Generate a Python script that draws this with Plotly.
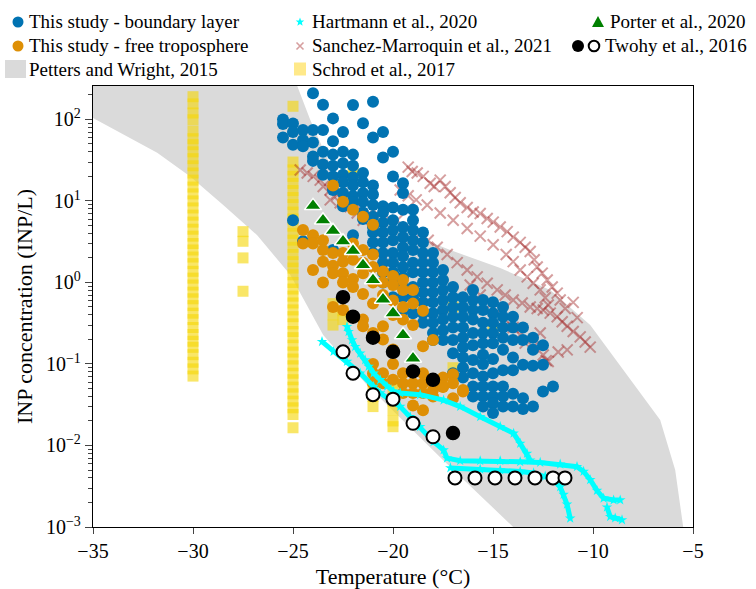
import math
import plotly.graph_objects as go

# ---------------- data ----------------
# This study - boundary layer
bl_temp = ([-25.5]*3 + [-25]*4 + [-24.5]*4 + [-24]*5 + [-23.5]*5 + [-23]*7 + [-22.5]*7 +
           [-22]*8 + [-21.5]*7 + [-21]*10 + [-20.5]*11 + [-20]*11 + [-19.5]*12 + [-19]*10 +
           [-18.5]*10 + [-18]*10 + [-17.5]*8 + [-17]*8 + [-16.5]*9 + [-16]*10 + [-15.5]*11 +
           [-15]*11 + [-14.5]*9 + [-14]*7 + [-13.5]*5 + [-13]*4 + [-12.5]*3 + [-12]*1)
bl_inp = [100, 88, 60,
          89, 70, 49, 5.8,
          74, 56, 47, 3.2,
          210, 74, 52, 35, 31,
          151, 74, 40, 28, 21,
          103, 54, 37, 27, 20, 13.6, 2.5,
          70, 40, 29, 21, 17, 12.5, 8.6,
          150, 37, 27, 19.5, 15.5, 11.5, 9.7, 3.8,
          90, 22, 17, 12.5, 9.8, 7.2, 6.0,
          165, 60, 15.5, 12, 8.9, 6.4, 4.8, 4.1, 3.1, 2.3,
          70, 34, 8.6, 7.2, 5.4, 4.1, 3.1, 2.3, 1.75, 1.33, 1.0,
          40, 20, 8.3, 5.8, 4.4, 3.3, 2.3, 1.75, 1.33, 1.0, 0.66,
          16.5, 12.5, 7.8, 4.8, 3.6, 2.7, 2.1, 1.55, 1.17, 0.88, 0.66, 0.46,
          7.8, 5.8, 4.4, 3.3, 2.5, 1.75, 1.33, 0.88, 0.66, 0.42,
          4.1, 3.1, 2.3, 1.75, 1.33, 1.0, 0.76, 0.57, 0.42, 0.32,
          2.3, 1.75, 1.33, 1.0, 0.76, 0.57, 0.42, 0.32, 0.24, 0.197,
          1.42, 1.07, 0.81, 0.61, 0.46, 0.35, 0.26, 0.197,
          0.88, 0.66, 0.50, 0.38, 0.28, 0.197, 0.135, 0.077,
          0.66, 0.50, 0.38, 0.28, 0.21, 0.16, 0.12, 0.09, 0.068,
          0.81, 0.61, 0.46, 0.35, 0.24, 0.17, 0.112, 0.077, 0.053, 0.040,
          0.61, 0.46, 0.32, 0.24, 0.18, 0.13, 0.10, 0.07, 0.053, 0.040, 0.030,
          0.57, 0.42, 0.32, 0.24, 0.18, 0.115, 0.077, 0.053, 0.040, 0.033, 0.025,
          0.50, 0.38, 0.28, 0.21, 0.149, 0.084, 0.053, 0.040, 0.030,
          0.38, 0.28, 0.197, 0.12, 0.084, 0.043, 0.030,
          0.28, 0.197, 0.098, 0.038, 0.028,
          0.21, 0.149, 0.095, 0.030,
          0.17, 0.098, 0.046,
          0.053]

# This study - free troposphere
ft_temp = ([-24.5]*2 + [-24]*3 + [-23.5]*4 + [-23]*5 + [-22.5]*6 + [-22]*6 + [-21.5]*7 +
           [-21]*9 + [-20.5]*7 + [-20]*7 + [-19.5]*7 + [-19]*6 + [-18.5]*6 + [-18]*4 +
           [-17.5]*3 + [-17]*3 + [-16.5]*2)
ft_inp = [4.4, 3.0,
          3.8, 3.0, 1.42,
          3.3, 2.5, 1.8, 1.0,
          15.5, 2.3, 1.6, 1.3, 0.50,
          9.8, 2.3, 1.8, 1.3, 1.0, 0.46,
          7.8, 3.0, 1.9, 1.1, 0.88, 0.38,
          6.4, 2.5, 1.75, 1.3, 0.72, 0.35, 0.29,
          5.1, 2.2, 1.55, 1.0, 0.55, 0.24, 0.10, 0.077, 0.058,
          1.36, 1.0, 0.7, 0.29, 0.2, 0.077, 0.058,
          1.2, 0.93, 0.6, 0.4, 0.15, 0.1, 0.064,
          1.07, 0.81, 0.5, 0.35, 0.077, 0.058, 0.044,
          0.81, 0.55, 0.3, 0.058, 0.044, 0.031,
          0.45, 0.165, 0.077, 0.058, 0.044, 0.027,
          0.197, 0.064, 0.048, 0.040,
          0.068, 0.052, 0.053,
          0.075, 0.058, 0.038,
          0.048, 0.046]

# Petters and Wright, 2015 envelope
pw_upper_temp = [-35.5, -25.2, -24.79, -24.14, -23.14, -21.64, -19.64, -17.14, -14.64,
                 -12.14, -10.14, -8.14, -6.64, -5.89, -5.49, -5.4]
pw_upper_inp = [400, 400, 258, 99, 27.7, 8.9, 4.4, 2.5, 1.5, 0.81, 0.30, 0.064, 0.0206,
                0.005, 0.001, 0.0005]
pw_lower_temp = [-35.5, -35, -33.49, -31.79, -30.14, -28.49, -26.79, -25.14, -23.49,
                 -21.29, -17.49, -13.99, -13.6]
pw_lower_inp = [110, 104, 65, 39, 20, 8.9, 3.8, 1.24, 0.227, 0.055, 0.0066, 0.001, 0.0005]

# Schrod et al., 2017
sc_temp = ([-30]*40 + [-27.5]*4 + [-25]*39 + [-23]*3 + [-22.5]*2 + [-22]*2 + [-21]*4 +
           [-20]*6 + [-17]*2 + [-15]*1)
sc_inp = [190, 155, 120, 99, 72, 58, 49, 40, 33, 27, 22, 18, 14.8, 12.2, 10, 8.2, 6.7,
          5.5, 4.5, 3.7, 3.0, 2.5, 2.05, 1.7, 1.37, 1.13, 0.93, 0.76, 0.63, 0.52, 0.42,
          0.35, 0.28, 0.23, 0.19, 0.16, 0.13, 0.105, 0.087, 0.071,
          4.2, 3.2, 2.0, 0.78,
          145, 30, 24, 20, 16.4, 13.4, 11, 9, 7.3, 6, 4.9, 4.0, 3.3, 2.7, 2.2, 1.8, 1.5,
          1.24, 1.0, 0.83, 0.68, 0.56, 0.46, 0.38, 0.31, 0.25, 0.21, 0.17, 0.14, 0.115,
          0.095, 0.077, 0.064, 0.052, 0.043, 0.035, 0.029, 0.024, 0.0165,
          0.55, 0.4, 0.3,
          0.45, 0.35,
          25, 20,
          0.065, 0.05, 0.04, 0.03,
          0.06, 0.045, 0.035, 0.027, 0.02, 0.017,
          0.5, 0.09,
          0.26]

# Sanchez-Marroquin et al., 2021
sm_temp = [-24.64, -24.29, -23.99, -23.64, -23.49, -23.14, -22.79, -22.49, -22.14, -21.79, -21.49,
           -19.24, -19.04, -18.79, -18.49, -18.14, -17.94,
           -17.64, -17.39, -17.14, -16.89, -16.64, -16.29, -15.99, -15.64, -15.29, -14.99, -14.64,
           -14.29, -13.99, -13.64, -13.39, -13.14, -12.94, -12.79, -12.54, -12.29, -12.04, -11.79,
           -11.64, -11.39,
           -19.64, -19.24, -18.84, -18.29, -17.64, -16.99, -16.29, -15.64, -14.99, -14.34, -13.99,
           -13.64, -13.29, -12.99, -12.64, -12.39, -12.24,
           -23.14, -22.64, -22.14, -21.64, -20.99, -20.39, -19.79, -19.24, -18.64, -18.24, -17.79,
           -17.29, -16.79, -16.29, -15.79, -15.29, -14.79, -14.39, -13.99, -13.54, -13.14, -12.79,
           -12.49, -12.14, -11.79, -11.54, -11.29, -10.99, -10.64, -10.39, -10.14,
           -16.14, -15.64, -15.14, -14.79, -14.39, -13.99, -13.64, -13.39, -12.99, -12.49, -12.24,
           -10.99, -10.79, -11.29, -11.74, -12.64, -12.34]
sm_inp = [24, 22, 20, 18, 15, 13.6, 11.9, 10.3, 8.5, 7.1, 5.8,
          26, 23, 22, 20, 16.5, 15,
          18, 15, 12.6, 11, 9.5, 8.3, 7.3, 7.0, 6.1, 5.5, 4.8, 4.2, 3.6, 3.1, 2.7, 2.4, 1.9,
          1.55, 1.3, 1.07, 0.88, 0.74, 0.61, 0.48,
          13.6, 11.6, 10.3, 8.9, 7.1, 5.8, 4.6, 3.7, 2.9, 2.2, 1.8, 1.42, 1.17, 0.98, 0.81,
          0.65, 0.53,
          10.3, 9.5, 8.9, 8.1, 7.8, 6.7, 5.8, 4.8, 4.0, 3.3, 2.7, 2.2, 1.75, 1.42, 1.17, 0.98,
          0.81, 0.70, 0.61, 0.56, 0.50, 0.48, 0.46, 0.42, 0.38, 0.33, 0.29, 0.25, 0.215,
          0.186, 0.161,
          0.93, 0.70, 0.53, 0.43, 0.35, 0.28, 0.227, 0.18, 0.161, 0.129, 0.107,
          0.57, 0.37, 0.149, 0.14, 0.24, 0.11]

# Hartmann et al., 2020 (three spectra)
h1_temp = [-22.30, -22.22, -22.05, -21.89, -21.64, -21.39, -21.22, -20.97, -20.64, -20.30,
           -19.97, -19.64, -18.64, -17.47, -16.64, -15.64, -14.64, -13.97, -13.64, -13.30, -13.14]
h1_inp = [0.287, 0.249, 0.197, 0.163, 0.135, 0.112, 0.093, 0.077, 0.064, 0.053, 0.046, 0.044,
          0.042, 0.036, 0.030, 0.0225, 0.017, 0.0141, 0.0106, 0.0080, 0.0066]
h2_temp = [-23.55, -22.97, -22.30, -21.64, -20.97, -20.64, -19.64, -19.14, -18.64, -17.97,
           -17.47, -17.30, -16.64, -15.64, -14.64, -13.64, -12.64, -11.64, -10.80, -10.47,
           -10.14, -9.80, -9.47, -8.97, -8.64]
h2_inp = [0.188, 0.142, 0.107, 0.077, 0.053, 0.044, 0.030, 0.0225, 0.017, 0.0111, 0.0088,
          0.0070, 0.0065, 0.0065, 0.0065, 0.0063, 0.0062, 0.0059, 0.0055, 0.0048, 0.0038,
          0.0028, 0.00225, 0.00214, 0.00214]
h3_temp = [-17.13, -15.64, -14.64, -13.64, -12.97, -12.39, -11.97, -11.64, -11.47, -11.30, -11.14]
h3_inp = [0.0053, 0.0051, 0.0050, 0.0048, 0.0046, 0.0042, 0.0038, 0.0031, 0.0025, 0.0019, 0.00128]
h4_temp = [-9.30, -9.14, -8.89, -8.55]
h4_inp = [0.00175, 0.00134, 0.00129, 0.00122]

# Porter et al., 2020
po_temp = [-24, -23.5, -23, -22.5, -22, -21.5, -21, -20.5, -20, -19.5, -19]
po_inp = [8.7, 5.8, 4.3, 3.2, 2.45, 1.64, 1.07, 0.62, 0.42, 0.227, 0.117]

# Twohy et al., 2016 (filled and open)
tw_f_temp = [-22.5, -22, -21, -20, -19, -18, -17]
tw_f_inp = [0.66, 0.38, 0.21, 0.141, 0.081, 0.064, 0.0142]
tw_o_temp = [-22.5, -22, -21, -20, -19, -18, -16.9, -15.9, -14.9, -13.9, -12.9, -12.0, -11.4]
tw_o_inp = [0.141, 0.077, 0.042, 0.037, 0.0187, 0.0128, 0.004, 0.004, 0.004, 0.004, 0.004,
            0.004, 0.004]

# ---------------- figure ----------------
FONT = '"Liberation Serif", "Times New Roman", Times, serif'
BLUE, ORANGE = "#0173B2", "#DE8F05"
GREY = "#DADADA"
PINK = "rgba(165,42,42,0.45)"
GOLD = "rgba(246,214,10,0.62)"
GOLD_LEG = "rgba(255,215,40,0.55)"

fig = go.Figure()

pw_x = pw_upper_temp + pw_lower_temp[::-1]
pw_y = pw_upper_inp + pw_lower_inp[::-1]
fig.add_trace(go.Scatter(x=pw_x, y=pw_y, mode="lines", fill="toself", fillcolor=GREY,
                         line=dict(width=0, color=GREY)))

fig.add_trace(go.Scatter(x=sc_temp, y=sc_inp, mode="markers",
                         marker=dict(symbol="square", size=11, color=GOLD, line=dict(width=0))))

fig.add_trace(go.Scatter(x=sm_temp, y=sm_inp, mode="markers",
                         marker=dict(symbol="x-thin", size=11, color=PINK,
                                     line=dict(width=2, color=PINK))))

fig.add_trace(go.Scatter(x=bl_temp, y=bl_inp, mode="markers",
                         marker=dict(symbol="circle", size=12, color=BLUE, line=dict(width=0))))
fig.add_trace(go.Scatter(x=ft_temp, y=ft_inp, mode="markers",
                         marker=dict(symbol="circle", size=12, color=ORANGE, line=dict(width=0))))

for hx, hy in [(h1_temp, h1_inp), (h2_temp, h2_inp), (h3_temp, h3_inp), (h4_temp, h4_inp)]:
    fig.add_trace(go.Scatter(x=hx, y=hy, mode="lines+markers",
                             line=dict(color="#00FFFF", width=5),
                             marker=dict(symbol="star", size=8, color="#00FFFF", line=dict(width=0))))

fig.add_trace(go.Scatter(x=po_temp, y=po_inp, mode="markers",
                         marker=dict(symbol="triangle-up", size=15, color="#008000",
                                     line=dict(width=1.5, color="white"))))
fig.add_trace(go.Scatter(x=tw_f_temp, y=tw_f_inp, mode="markers",
                         marker=dict(symbol="circle", size=13, color="black",
                                     line=dict(width=1.5, color="black"))))
fig.add_trace(go.Scatter(x=tw_o_temp, y=tw_o_inp, mode="markers",
                         marker=dict(symbol="circle", size=13, color="white",
                                     line=dict(width=2, color="black"))))

# ---------------- manual legend ----------------
L, T, W, H = 93, 86, 600, 441


def px(xp):
    return (xp - L) / W


def py(yp):
    return (T + H - yp) / H


shapes = []
annotations = []


def label(x, y, text):
    annotations.append(dict(x=px(x), y=py(y), xref="paper", yref="paper", text=text,
                            showarrow=False, xanchor="left", yanchor="middle",
                            font=dict(family=FONT, size=19, color="black")))


def circle(x, y, r, fill, line_color=None, lw=0):
    shapes.append(dict(type="circle", xref="paper", yref="paper", xsizemode="pixel",
                       ysizemode="pixel", xanchor=px(x), yanchor=py(y), x0=-r, x1=r, y0=-r, y1=r,
                       fillcolor=fill, line=dict(color=line_color or fill, width=lw)))


def path(x, y, d, fill, line_color=None, lw=0):
    shapes.append(dict(type="path", xref="paper", yref="paper", xsizemode="pixel",
                       ysizemode="pixel", xanchor=px(x), yanchor=py(y), path=d,
                       fillcolor=fill, line=dict(color=line_color or fill, width=lw)))


circle(18, 22, 5.5, BLUE)
label(27, 22, "This study - boundary layer")
circle(18, 46, 5.5, ORANGE)
label(27, 46, "This study - free troposphere")
shapes.append(dict(type="rect", xref="paper", yref="paper", x0=px(5), x1=px(26), y0=py(78),
                   y1=py(60), fillcolor=GREY, line=dict(width=0)))
label(27, 69, "Petters and Wright, 2015")

star_pts = []
for k in range(10):
    rr = 4.5 if k % 2 == 0 else 1.9
    a = math.pi / 2 + k * math.pi / 5
    star_pts.append((rr * math.cos(a), rr * math.sin(a)))
star_d = "M " + " L ".join(f"{a:.2f},{b:.2f}" for a, b in star_pts) + " Z"
path(300, 22, star_d, "#00FFFF")
label(310, 22, "Hartmann et al., 2020")
path(300, 46, "M -3.5,-3.5 L 3.5,3.5 M -3.5,3.5 L 3.5,-3.5", "rgba(0,0,0,0)", PINK, 1.6)
label(310, 46, "Sanchez-Marroquin et al., 2021")
shapes.append(dict(type="rect", xref="paper", yref="paper", xsizemode="pixel", ysizemode="pixel",
                   xanchor=px(300), yanchor=py(69), x0=-6, x1=6, y0=-6.5, y1=6.5,
                   fillcolor=GOLD_LEG, line=dict(width=0)))
label(310, 69, "Schrod et al., 2017")

path(598, 22, "M -6,-5 L 6,-5 L 0,6 Z", "#008000")
label(608, 22, "Porter et al., 2020")
circle(578, 46, 6, "black")
circle(594, 46, 5.3, "white", "black", 2)
label(603, 46, "Twohy et al., 2016")

# ---------------- axes ----------------
y_major = [1e-3, 1e-2, 1e-1, 1, 10, 100]
y_text = ["10<sup>−3</sup>", "10<sup>−2</sup>", "10<sup>−1</sup>", "10<sup>0</sup>",
          "10<sup>1</sup>", "10<sup>2</sup>"]
y_minor = [m * 10 ** e for e in range(-3, 3) for m in range(2, 10)]

fig.update_layout(
    width=756, height=589,
    margin=dict(l=L, r=756 - L - W, t=T, b=589 - T - H, autoexpand=False),
    paper_bgcolor="white", plot_bgcolor="white",
    showlegend=False,
    shapes=shapes, annotations=annotations,
    font=dict(family=FONT, color="black"),
)
fig.update_xaxes(range=[-35, -5], dtick=5, tick0=-35, ticks="outside", ticklen=6, tickwidth=1.2,
                 showline=True, linecolor="black", linewidth=1.3, mirror=True, showgrid=False,
                 zeroline=False, automargin=False,
                 tickfont=dict(family=FONT, size=20, color="black"),
                 title=dict(text="Temperature (°C)", font=dict(family=FONT, size=22, color="black"),
                            standoff=10))
fig.update_yaxes(type="log", range=[-3, 2.41], tickvals=y_major, ticktext=y_text,
                 ticks="outside", ticklen=7, tickwidth=1.2,
                 minor=dict(tickvals=y_minor, ticks="outside", ticklen=3.5, tickwidth=1),
                 showline=True, linecolor="black", linewidth=1.3, mirror=True, showgrid=False,
                 zeroline=False, automargin=False,
                 tickfont=dict(family=FONT, size=20, color="black"),
                 title=dict(text="INP concentration (INP/L)",
                            font=dict(family=FONT, size=22, color="black"), standoff=7))

fig.write_html("out.html")
